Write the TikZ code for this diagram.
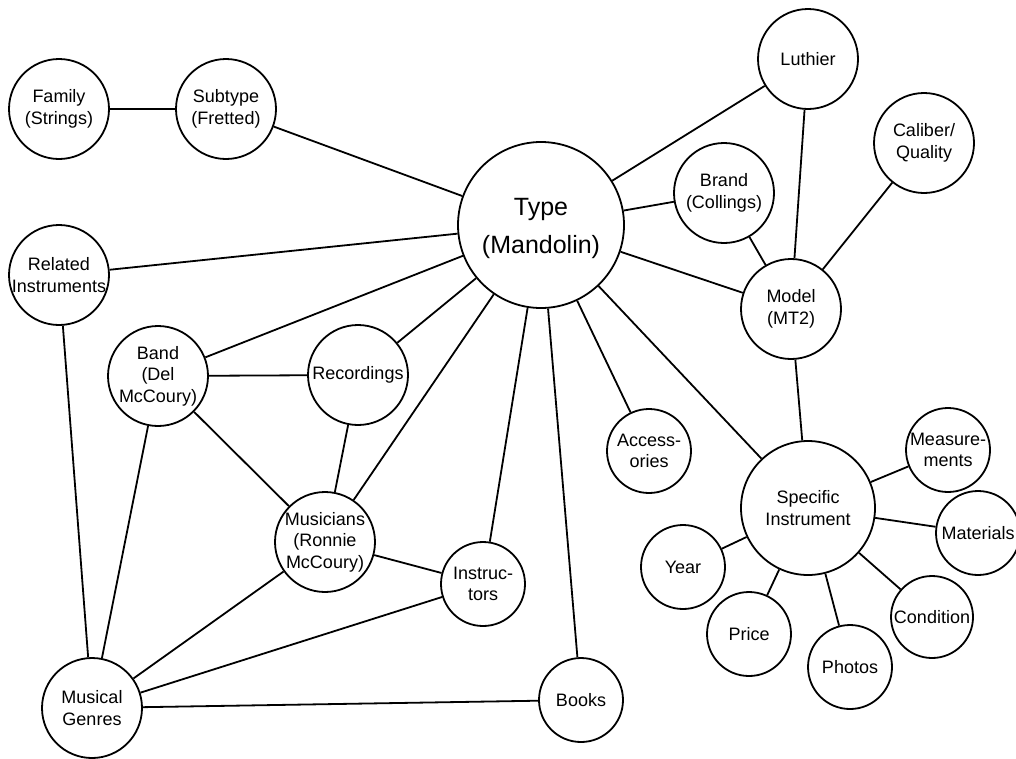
\documentclass[tikz,border=0pt]{standalone}
\usepackage{fontspec}
\setmainfont{Liberation Sans}
\usetikzlibrary{positioning}

\begin{document}
\begin{tikzpicture}[
    x=1pt, y=-1pt,
    bubble/.style={circle, draw, line width=1.8pt, inner sep=0pt, minimum size=100pt},
    small/.style={bubble, minimum size=84pt},
    link/.style={line width=1.8pt},
    every label/.style={align=center, inner sep=0pt, font=\fontsize{18}{21.5}\selectfont}
]
\useasboundingbox (0,0) rectangle (1016,758);

% centre of the map
\node[bubble, minimum size=166pt, label={[font=\fontsize{25}{38}\selectfont, yshift=-3pt]center:{Type\\(Mandolin)}}] (type) at (541,225) {};

% upper left
\node[bubble, label=center:{Family\\(Strings)}] (family) at (59,109) {};
\node[bubble, label=center:{Subtype\\(Fretted)}] (subtype) at (226,109) {};
\node[bubble, label=center:{Related\\Instruments}] (related) at (59,275) {};

% upper right
\node[bubble, label=center:Luthier] (luthier) at (808,59) {};
\node[bubble, label=center:{Caliber/\\Quality}] (caliber) at (924,143) {};
\node[bubble, label=center:{Brand\\(Collings)}] (brand) at (724,193) {};
\node[bubble, label=center:{Model\\(MT2)}] (model) at (791,309) {};

% music side
\node[bubble, label=center:{Band\\(Del\\McCoury)}] (band) at (158,376) {};
\node[bubble, label=center:Recordings] (recordings) at (358,375) {};
\node[bubble, label=center:{Musicians\\(Ronnie\\McCoury)}] (musicians) at (325,542) {};
\node[small, label=center:{Instruc-\\tors}] (instructors) at (483,584) {};
\node[bubble, label=center:{Musical\\Genres}] (genres) at (92,708) {};
\node[small, label=center:Books] (books) at (581,700) {};
\node[small, label=center:{Access-\\ories}] (accessories) at (649,451) {};

% one instrument and its details
\node[bubble, minimum size=134pt, label=center:{Specific\\Instrument}] (specific) at (808,508) {};
\node[small, label=center:{Measure-\\ments}] (measure) at (948,450) {};
\node[small, label=center:Materials] (materials) at (978,533) {};
\node[small, label=center:Year] (year) at (683,567) {};
\node[small, label=center:Price] (price) at (749,634) {};
\node[small, label=center:Photos] (photos) at (850,667) {};
\node[small, minimum size=82pt, label=center:Condition] (condition) at (932,617) {};

\draw[link] (family) -- (subtype);
\draw[link] (subtype) -- (type);
\draw[link] (related) -- (type);
\draw[link] (related) -- (genres);
\draw[link] (type) -- (luthier);
\draw[link] (type) -- (brand);
\draw[link] (type) -- (model);
\draw[link] (luthier) -- (model);
\draw[link] (brand) -- (model);
\draw[link] (caliber) -- (model);
\draw[link] (model) -- (specific);
\draw[link] (type) -- (specific);
\draw[link] (type) -- (accessories);
\draw[link] (type) -- (books);
\draw[link] (type) -- (instructors);
\draw[link] (type) -- (musicians);
\draw[link] (type) -- (recordings);
\draw[link] (type) -- (band);
\draw[link] (band) -- (recordings);
\draw[link] (band) -- (musicians);
\draw[link] (band) -- (genres);
\draw[link] (recordings) -- (musicians);
\draw[link] (musicians) -- (instructors);
\draw[link] (musicians) -- (genres);
\draw[link] (instructors) -- (genres);
\draw[link] (genres) -- (books);
\draw[link] (specific) -- (measure);
\draw[link] (specific) -- (materials);
\draw[link] (specific) -- (year);
\draw[link] (specific) -- (price);
\draw[link] (specific) -- (photos);
\draw[link] (specific) -- (condition);
\end{tikzpicture}
\end{document}
